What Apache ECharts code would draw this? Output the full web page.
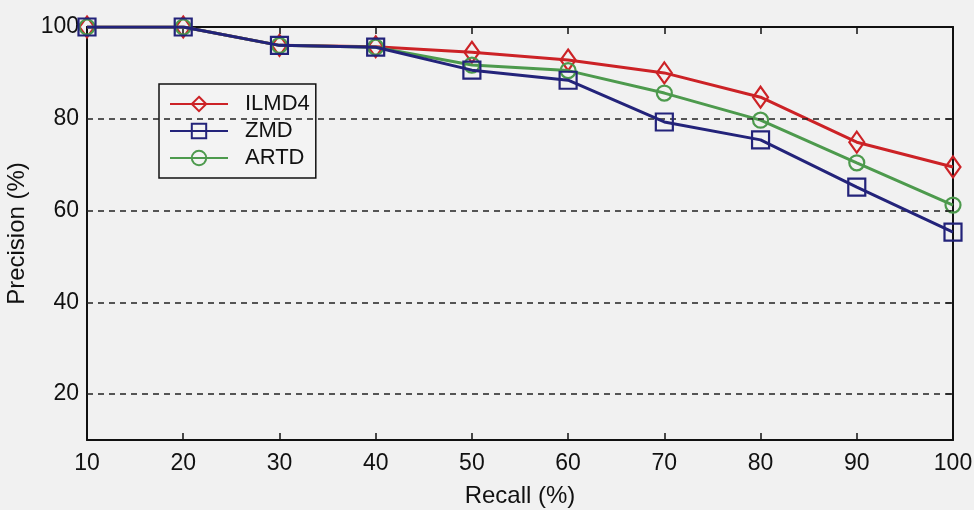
<!DOCTYPE html>
<html>
<head>
<meta charset="utf-8">
<script src="https://cdn.jsdelivr.net/npm/echarts@6/dist/echarts.min.js"></script>
<style>
  html, body { margin: 0; padding: 0; background: #f1f1f1; }
  #chart { width: 974px; height: 510px; }
</style>
</head>
<body>
<div id="chart"></div>
<script>
  // recall levels on the x axis
  var recall = [10, 20, 30, 40, 50, 60, 70, 80, 90, 100];
  // precision values
  var ilmd4 = [100, 100, 96, 95.7, 94.5, 92.8, 90, 84.7, 74.9, 69.5];
  var zmd = [100, 100, 96, 95.6, 90.6, 88.4, 79.3, 75.4, 65.1, 55.3];
  var artd = [100, 100, 96, 95.6, 91.7, 90.5, 85.6, 79.7, 70.4, 61.2];
  var gridLines = [20, 40, 60, 80];

  function pairs(ys) {
    return recall.map(function (x, i) { return [x, ys[i]]; });
  }

  var font = 'Liberation Sans, Arial, sans-serif';
  var chart = echarts.init(document.getElementById('chart'));

  chart.setOption({
    backgroundColor: '#f1f1f1',
    animation: false,
    grid: { left: 87, right: 21, top: 27, bottom: 70, outerBoundsMode: 'none' },
    legend: {
      orient: 'vertical',
      left: 159,
      top: 84,
      backgroundColor: '#f3f3f3',
      borderColor: '#111',
      borderWidth: 1.5,
      padding: [9, 6, 9, 10],
      itemWidth: 58,
      itemHeight: 18,
      itemGap: 5,
      textStyle: { fontFamily: font, fontSize: 22, color: '#111', lineHeight: 21, padding: [0, 0, 0, 12] },
      data: ['ILMD4', 'ZMD', 'ARTD']
    },
    xAxis: [{
      type: 'value', min: 10, max: 100, interval: 10,
      name: 'Recall (%)', nameLocation: 'middle', nameGap: 44,
      nameTextStyle: { fontFamily: font, fontSize: 24, color: '#111' },
      axisLine: { lineStyle: { color: '#111', width: 2 } },
      axisTick: { inside: true, length: 7, lineStyle: { color: '#111', width: 1.5 } },
      axisLabel: { fontFamily: font, fontSize: 23, color: '#111', margin: 12 },
      splitLine: { show: false }
    }, {
      type: 'value', position: 'top', min: 10, max: 100, interval: 10,
      axisLine: { lineStyle: { color: '#111', width: 2 } },
      axisTick: { inside: true, length: 7, lineStyle: { color: '#111', width: 1.5 } },
      axisLabel: { show: false },
      splitLine: { show: false }
    }],
    yAxis: [{
      type: 'value', min: 10, max: 100, interval: 10,
      name: 'Precision (%)', nameLocation: 'middle', nameGap: 45,
      nameTextStyle: { fontFamily: font, fontSize: 24, color: '#111' },
      axisLine: { lineStyle: { color: '#111', width: 2 } },
      axisTick: { show: false },
      axisLabel: {
        fontFamily: font, fontSize: 23, color: '#111', margin: 8,
        formatter: function (v) { return v % 20 === 0 ? v : ''; }
      },
      splitLine: { show: false }
    }, {
      type: 'value', position: 'right', min: 10, max: 100, interval: 10,
      axisLine: { lineStyle: { color: '#111', width: 2 } },
      axisTick: { inside: true, length: 7, customValues: gridLines, lineStyle: { color: '#111', width: 1.5 } },
      axisLabel: { show: false },
      splitLine: { show: false }
    }],
    series: [{
      name: 'ILMD4', type: 'line', z: 3,
      data: pairs(ilmd4),
      symbol: 'diamond', symbolSize: [15, 21],
      lineStyle: { color: '#cc2226', width: 3 },
      itemStyle: { color: 'rgba(255,255,255,0)', borderColor: '#cc2226', borderWidth: 2.2 },
      markLine: {
        silent: true, symbol: 'none', label: { show: false },
        lineStyle: { color: '#222', type: [6, 5], width: 1.5 },
        data: gridLines.map(function (v) { return { yAxis: v }; })
      }
    }, {
      name: 'ZMD', type: 'line', z: 5,
      data: pairs(zmd),
      symbol: 'rect', symbolSize: 17,
      lineStyle: { color: '#23237a', width: 3 },
      itemStyle: { color: 'rgba(255,255,255,0)', borderColor: '#23237a', borderWidth: 2.2 }
    }, {
      name: 'ARTD', type: 'line', z: 4,
      data: pairs(artd),
      symbol: 'circle', symbolSize: 15,
      lineStyle: { color: '#4d9a4d', width: 3 },
      itemStyle: { color: 'rgba(255,255,255,0)', borderColor: '#4d9a4d', borderWidth: 2.2 }
    }]
  });
</script>
</body>
</html>
